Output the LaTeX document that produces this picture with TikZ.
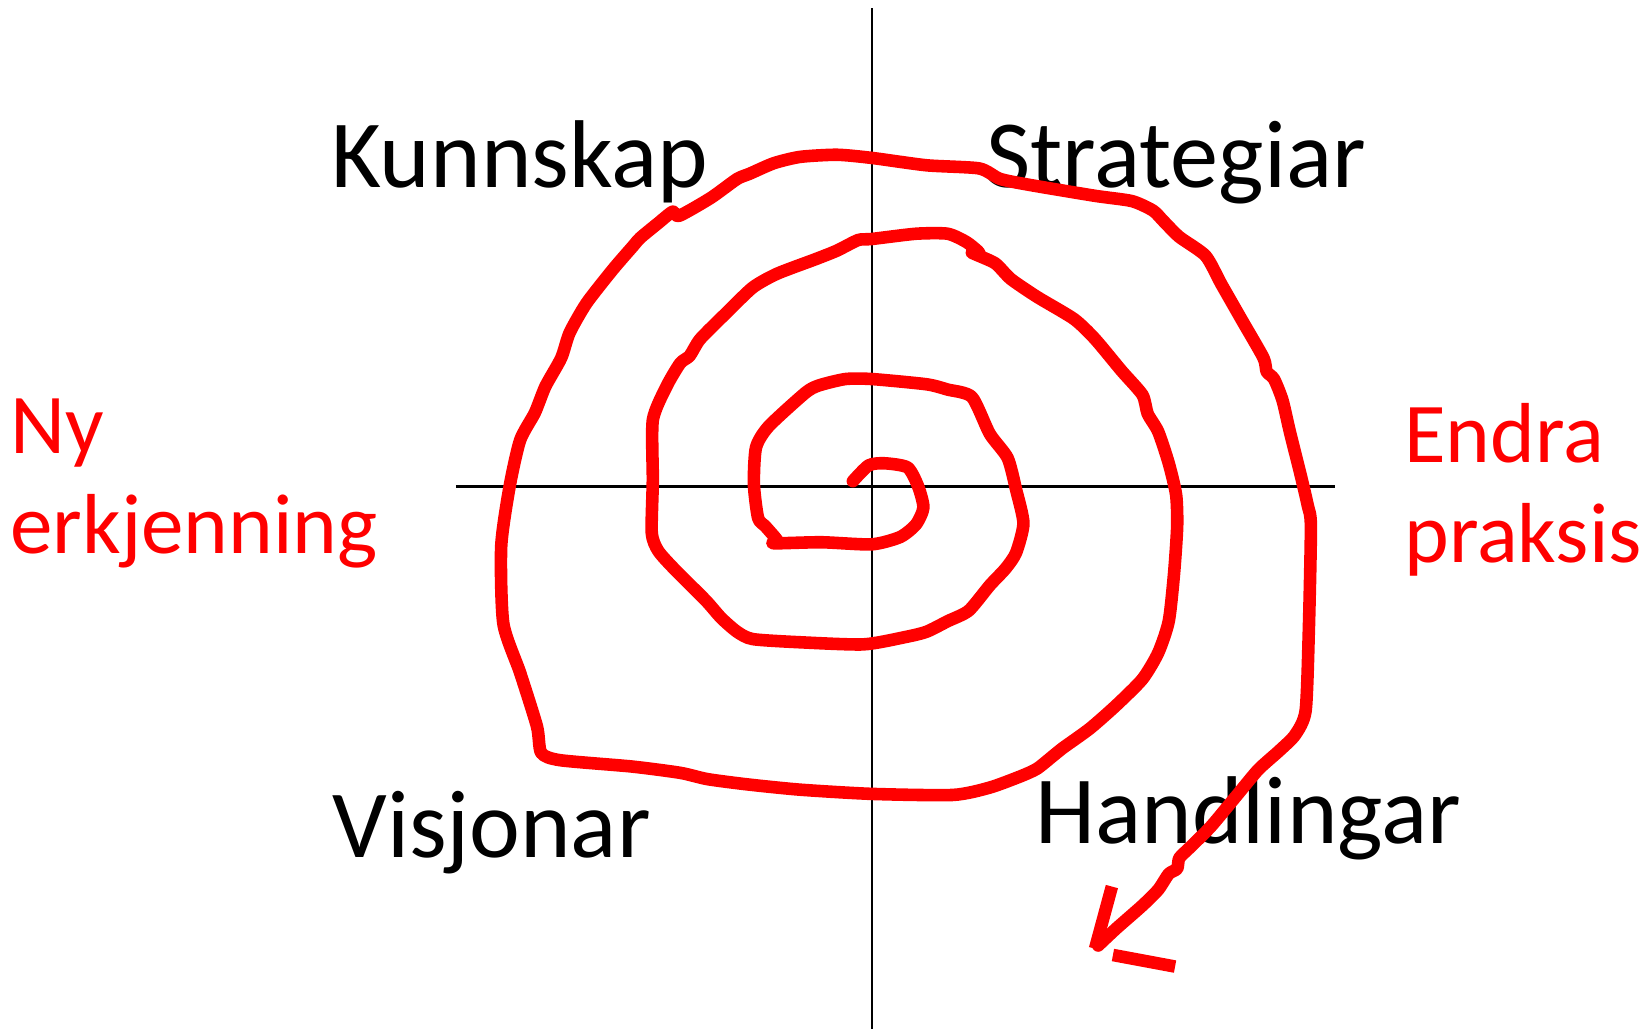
\documentclass[tikz,border=0pt]{standalone}
\usepackage{fontspec}
\setmainfont{Carlito}
\usetikzlibrary{positioning}

\begin{document}
\begin{tikzpicture}[
		x=0.01cm, y=-0.01cm,
		axis/.style={draw=black, line width=0.7pt},
		stroke/.style={draw=red, line width=3.4pt, line cap=round, line join=round},
		phase/.style={anchor=base west, inner sep=0pt, text=black,
				font=\fontsize{26}{31}\selectfont},
		sidelabel/.style={anchor=base west, inner sep=0pt, text=red, align=left,
				font=\fontsize{23}{27}\selectfont},
		]
		\useasboundingbox (0,0) rectangle (1568,977);

		% Axes
		\coordinate (north) at (828,8);
		\coordinate (south) at (828,977);
		\coordinate (west) at (433,462);
		\coordinate (east) at (1268,462);
		\draw[axis] (north) -- (south);
		\draw[axis] (west) -- (east);

		% Quadrant labels
		\node[phase] (kunnskap) at (314,178) {Kunnskap};
		\node[phase] (strategiar) at (936,178) {Strategiar};
		\node[phase] (visjonar) at (315,814) {Visjonar};
		\node[phase] (handlingar) at (983,801) {Handlingar};

		% Side labels (anchored on the last line)
		\node[sidelabel] (erkjenning) at (9,526) {Ny\\erkjenning};
		\node[sidelabel] (praksis) at (1333,534) {Endra\\praksis};

		% Spiral
		\draw[stroke] plot[smooth, tension=0.4] coordinates {
				(810,457) (825,442) (840,440) (862,444) (872,462) (877,482) (870,498)
				(855,510) (828,517) (780,515) (735,516) (738,513) (727,500) (720,492)
				(716,460) (718,425) (730,405) (765,373) (778,366) (803,360) (828,360)
				(880,365) (900,370) (923,377) (940,412) (957,435) (965,465) (972,497)
				(965,525) (955,540) (940,556) (920,580) (900,590) (880,600) (860,605)
				(820,612) (760,610) (715,607) (700,600) (685,587) (670,570) (640,540)
				(625,523) (619,506) (620,456) (620,399) (633,367) (646,345) (655,338)
				(665,322) (690,297) (715,273) (738,260) (775,246) (795,238) (815,228)
				(828,227) (870,222) (900,222) (918,230) (930,240) (923,240) (945,250)
				(960,265) (985,282) (1020,303) (1040,322) (1065,352) (1085,375) (1090,393)
				(1100,410) (1110,440) (1117,470) (1118,500) (1115,545) (1110,590)
				(1100,620) (1085,645) (1060,670) (1035,692) (1010,710) (1000,718)
				(985,730) (970,737) (940,748) (905,755) (828,754) (760,750) (710,745)
				(672,740) (646,734) (600,728) (532,722) (514,715) (510,690)
				(494,639) (478,592) (476,519) (484,462) (494,418) (508,392) (518,367)
				(533,340) (541,316) (557,288) (582,256) (601,234) (608,226)
				(625,212) (639,201) (645,205) (675,188) (700,170) (712,165) (735,155)
				(760,149) (795,147) (828,150) (880,157) (930,160) (950,170) (980,176)
				(1040,186) (1075,191) (1095,200) (1105,210) (1120,225) (1145,243)
				(1160,270) (1180,305) (1200,340) (1203,353) (1210,360) (1218,380)
				(1225,410) (1235,450) (1242,480) (1245,500) (1243,600) (1240,675)
				(1230,698) (1215,713) (1195,731) (1175,755) (1150,785) (1130,805)
				(1120,815) (1118,825) (1110,830) (1100,845) (1085,860) (1060,882)
				(1043,898)};

		% Arrow head
		\coordinate (tip) at (1040,901);
		\coordinate (barbl) at (1056,842);
		\coordinate (barbr) at (1057,907);
		\coordinate (barbe) at (1116,918);
		\draw[stroke, line cap=butt] (barbl) -- (tip);
		\draw[stroke, line cap=butt] (barbr) -- (barbe);
	\end{tikzpicture}
\end{document}
